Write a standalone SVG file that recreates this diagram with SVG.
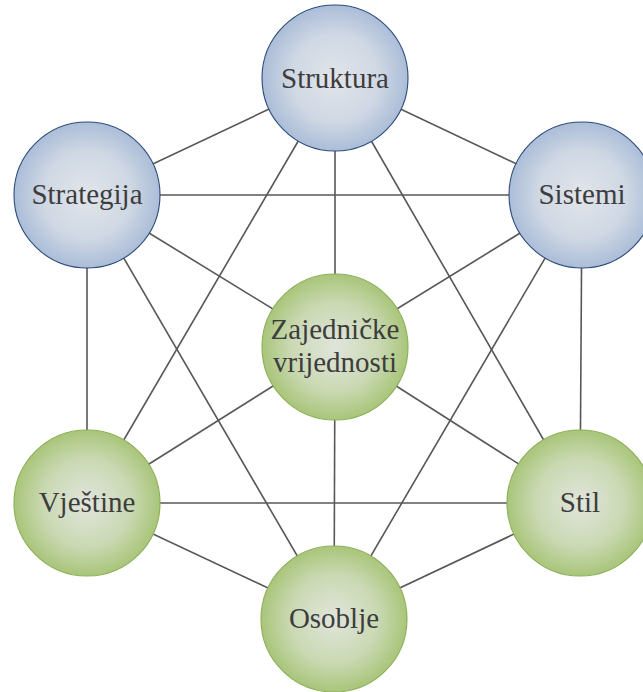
<svg xmlns="http://www.w3.org/2000/svg" width="643" height="692" viewBox="0 0 643 692">
<defs>
<radialGradient id="gBlue" cx="50%" cy="50%" r="50%">
<stop offset="0" stop-color="#e2e5ea"/>
<stop offset="0.6" stop-color="#cfd8e4"/>
<stop offset="1" stop-color="#abbdd8"/>
</radialGradient>
<radialGradient id="gGreen" cx="50%" cy="50%" r="50%">
<stop offset="0" stop-color="#e1e5dc"/>
<stop offset="0.6" stop-color="#cad9b3"/>
<stop offset="1" stop-color="#a9c57a"/>
</radialGradient>
<style>
.edge{stroke:#575757;stroke-width:1.6;fill:none}
.blue{fill:url(#gBlue);stroke:#2c4a7a;stroke-width:1.1}
.green{fill:url(#gGreen);stroke:#8aaf55;stroke-width:1.1}
.lbl{font-family:"Liberation Serif","DejaVu Serif",serif;font-size:29px;fill:#3d3d3d;text-anchor:middle}
</style>
</defs>
<rect width="643" height="692" fill="#ffffff"/>
<g id="connectors">
<line class="edge" x1="335" y1="78" x2="87" y2="195"/>
<line class="edge" x1="335" y1="78" x2="582" y2="195"/>
<line class="edge" x1="335" y1="78" x2="335" y2="347"/>
<line class="edge" x1="335" y1="78" x2="87" y2="503"/>
<line class="edge" x1="335" y1="78" x2="580" y2="503"/>
<line class="edge" x1="87" y1="195" x2="582" y2="195"/>
<line class="edge" x1="87" y1="195" x2="335" y2="347"/>
<line class="edge" x1="87" y1="195" x2="87" y2="503"/>
<line class="edge" x1="87" y1="195" x2="334" y2="619"/>
<line class="edge" x1="582" y1="195" x2="335" y2="347"/>
<line class="edge" x1="582" y1="195" x2="580" y2="503"/>
<line class="edge" x1="582" y1="195" x2="334" y2="619"/>
<line class="edge" x1="335" y1="347" x2="87" y2="503"/>
<line class="edge" x1="335" y1="347" x2="580" y2="503"/>
<line class="edge" x1="335" y1="347" x2="334" y2="619"/>
<line class="edge" x1="87" y1="503" x2="580" y2="503"/>
<line class="edge" x1="87" y1="503" x2="334" y2="619"/>
<line class="edge" x1="580" y1="503" x2="334" y2="619"/>
</g>
<g id="struktura">
<circle class="blue" cx="335" cy="78" r="73"/>
<text class="lbl" x="335" y="88">Struktura</text>
</g>
<g id="strategija">
<circle class="blue" cx="87" cy="195" r="73"/>
<text class="lbl" x="87" y="204">Strategija</text>
</g>
<g id="sistemi">
<circle class="blue" cx="582" cy="195" r="73"/>
<text class="lbl" x="582" y="204">Sistemi</text>
</g>
<g id="zajednicke">
<circle class="green" cx="335" cy="347" r="73"/>
<text class="lbl" x="335" y="339">Zajedničke</text>
<text class="lbl" x="335" y="372">vrijednosti</text>
</g>
<g id="vjestine">
<circle class="green" cx="87" cy="503" r="73"/>
<text class="lbl" x="87" y="512">Vještine</text>
</g>
<g id="stil">
<circle class="green" cx="580" cy="503" r="73"/>
<text class="lbl" x="580" y="512">Stil</text>
</g>
<g id="osoblje">
<circle class="green" cx="334" cy="619" r="73"/>
<text class="lbl" x="334" y="628">Osoblje</text>
</g>
</svg>
